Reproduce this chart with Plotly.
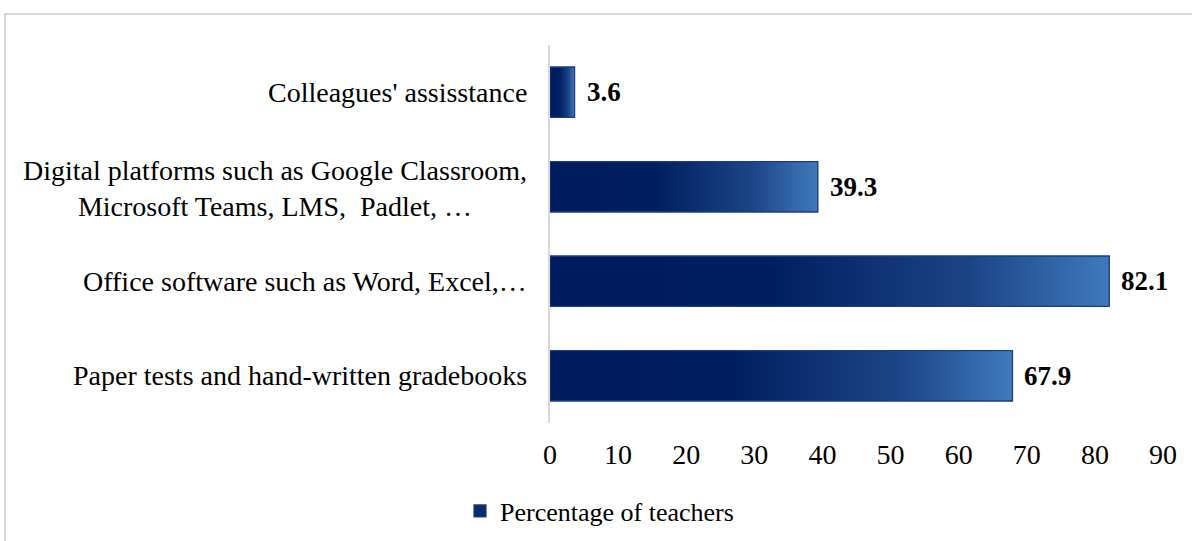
import plotly.graph_objects as go

# Survey data: tools teachers use for assessment (percentage of teachers)
categories = [
    "Paper tests and hand-written gradebooks",
    "Office software such as Word, Excel,…",
    "Digital platforms such as Google Classroom,<br>Microsoft Teams, LMS,  Padlet, …",
    "Colleagues' assisstance",
]
values = [67.9, 82.1, 39.3, 3.6]
series_name = "Percentage of teachers"
x_ticks = [0, 10, 20, 30, 40, 50, 60, 70, 80, 90]

FONT = "Liberation Serif, Times New Roman, serif"
FS = 28
W, H = 1192, 541
L, R, T, B = 550, 29, 45, 118
BAR_W = 0.53  # bar thickness in category units

positions = list(range(len(categories)))

fig = go.Figure()

# the bars themselves
fig.add_trace(go.Bar(
    x=values, y=positions, orientation="h", width=BAR_W,
    marker=dict(color="#0b2a6c", line=dict(color="#1c3c86", width=1.2)),
    name=series_name, hoverinfo="skip",
))

# gradient shading laid over each bar, drawn from the same values
half = BAR_W / 2
for i, v in zip(positions, values):
    xs = [0, v, v, 0, 0]
    ys = [i - half, i - half, i + half, i + half, i - half]
    fig.add_trace(go.Scatter(
        x=xs, y=ys, mode="lines", fill="toself",
        line=dict(color="#1c3c86", width=1.2),
        fillgradient=dict(
            type="horizontal",
            colorscale=[[0, "#001a5c"], [0.4, "#011f60"], [0.75, "#1b4487"],
                        [1, "#4079bd"]],
        ),
        showlegend=False, hoverinfo="skip",
    ))
    fig.add_annotation(
        x=v, y=i, text=f"<b>{v}</b>", showarrow=False,
        xanchor="left", yanchor="middle", xshift=10,
        font=dict(family=FONT, size=FS - 1, color="#000000"),
    )

# category labels, lines centred within each label block
for i, c in zip(positions, categories):
    fig.add_annotation(
        xref="paper", x=0, y=i, text=c, showarrow=False,
        xanchor="right", yanchor="middle", align="center", xshift=-21,
        yshift=-2 if "<br>" in c else 0,
        font=dict(family=FONT, size=FS, color="#000000"),
    )

# outer chart frame
pw, ph = W - L - R, H - T - B
fig.add_shape(
    type="rect", xref="paper", yref="paper",
    x0=(5 - L) / pw, x1=(W + 5 - L) / pw,
    y0=-(H + 5 - (H - B)) / ph, y1=((H - B) - 14) / ph,
    line=dict(color="#d9d9d9", width=2), fillcolor="rgba(0,0,0,0)", layer="below",
)

fig.update_layout(
    width=W, height=H,
    margin=dict(l=L, r=R, t=T, b=B, autoexpand=False),
    paper_bgcolor="white", plot_bgcolor="white",
    font=dict(family=FONT, size=FS, color="#000000"),
    showlegend=True,
    legend=dict(
        orientation="h", x=(460 - L) / pw, xanchor="left",
        y=-(511 - (H - B)) / ph, yanchor="middle",
        font=dict(family=FONT, size=26, color="#000000"),
        itemwidth=30, bgcolor="rgba(0,0,0,0)",
    ),
    xaxis=dict(
        range=[0, 90], tickvals=x_ticks, ticktext=[str(t) for t in x_ticks],
        showgrid=False, zeroline=False, showline=False, ticks="",
        ticklabelstandoff=12, tickfont=dict(family=FONT, size=FS),
        fixedrange=True,
    ),
    yaxis=dict(
        range=[-0.5, len(categories) - 0.5],
        tickvals=positions, showticklabels=False,
        showgrid=False, zeroline=False, showline=True,
        linecolor="#d9d9d9", linewidth=1.5, ticks="",
        fixedrange=True,
    ),
)

fig.write_html("out.html")
